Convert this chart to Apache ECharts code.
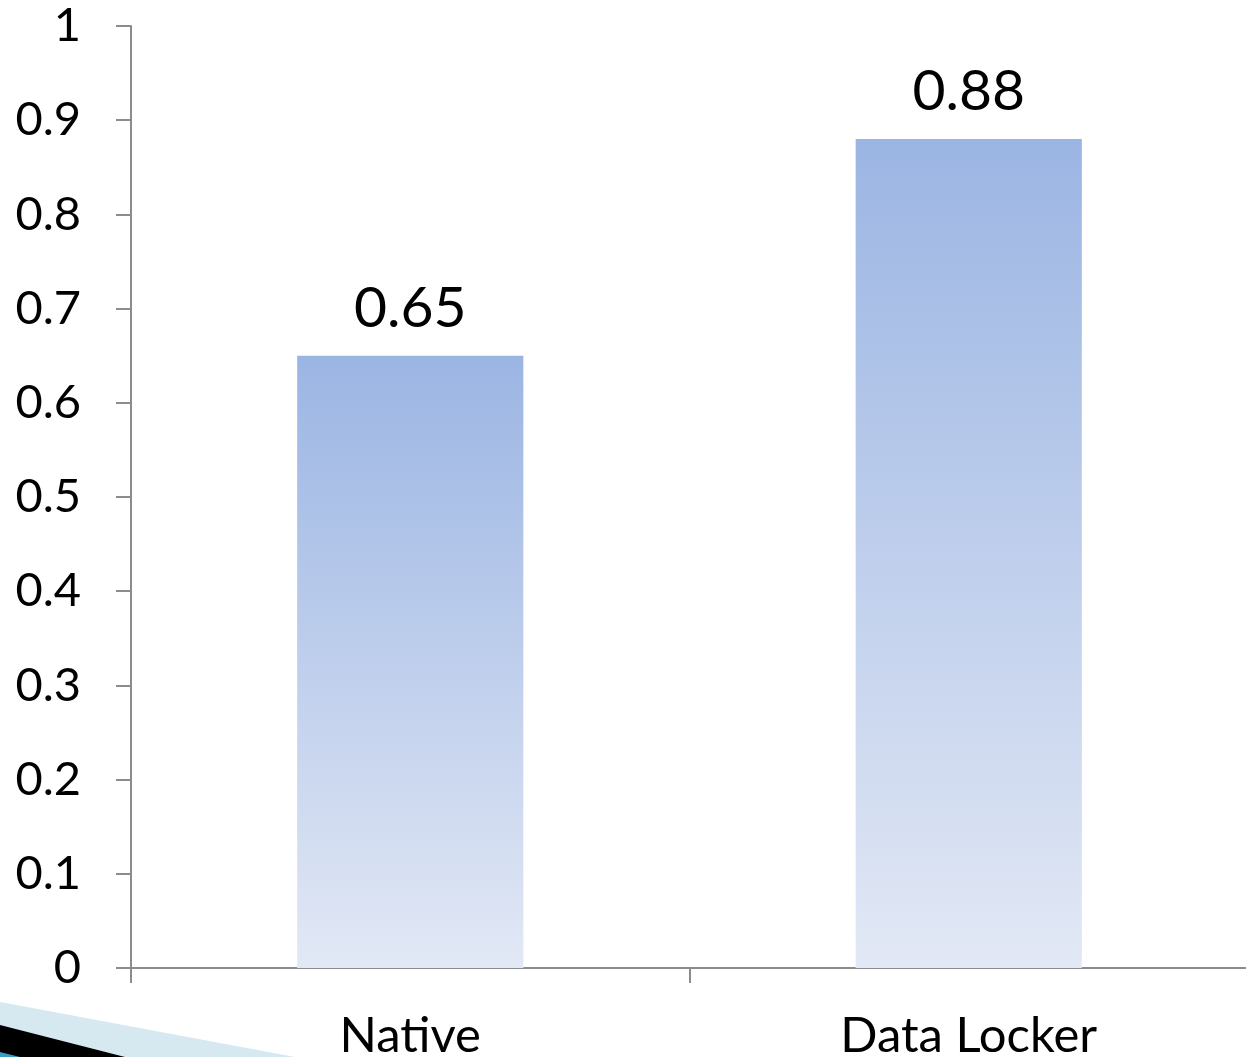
<!DOCTYPE html>
<html>
<head>
<meta charset="utf-8">
<style>
  html, body { margin: 0; padding: 0; background: #ffffff; }
  #chart { width: 1246px; height: 1057px; }
</style>
<script src="https://cdn.jsdelivr.net/npm/echarts@6/dist/echarts.min.js"></script>
</head>
<body>
<div id="chart"></div>
<script>
// Categories and measured values
const categories = ['Native', 'Data Locker'];
const values = [0.65, 0.88];

// Value axis range
const yMin = 0;
const yMax = 1;
const yStep = 0.1;

const FONT = 'Lato, "Open Sans", sans-serif';

const chart = echarts.init(document.getElementById('chart'), null, { renderer: 'canvas' });

chart.setOption({
  animation: false,
  backgroundColor: '#ffffff',
  grid: {
    left: 131, right: -2, top: 26, bottom: 89,
    containLabel: false,
    outerBoundsMode: 'none'
  },
  xAxis: {
    type: 'category',
    data: categories,
    axisLine: { show: true, lineStyle: { color: '#8c8c8c', width: 2 } },
    axisTick: { show: true, length: 15, lineStyle: { color: '#8c8c8c', width: 2 } },
    axisLabel: { color: '#000000', fontSize: 49, fontFamily: FONT, margin: 44 }
  },
  yAxis: {
    type: 'value',
    min: yMin,
    max: yMax,
    interval: yStep,
    axisLine: { show: true, lineStyle: { color: '#8c8c8c', width: 2 } },
    axisTick: { show: true, length: 15, lineStyle: { color: '#8c8c8c', width: 2 } },
    splitLine: { show: false },
    axisLabel: {
      color: '#000000', fontSize: 47, fontFamily: FONT, margin: 50,
      formatter: v => String(Math.round(v * 10) / 10)
    }
  },
  series: [{
    type: 'bar',
    data: values,
    barWidth: '40.5%',
    itemStyle: {
      color: new echarts.graphic.LinearGradient(0, 0, 0, 1, [
        { offset: 0, color: '#9bb5e3' },
        { offset: 1, color: '#e2e8f5' }
      ])
    },
    label: {
      show: true,
      position: 'top',
      distance: 19,
      color: '#000000',
      fontSize: 57,
      fontFamily: FONT
    }
  }],
  graphic: [
    // slide decoration in the lower-left corner
    {
      type: 'polygon', silent: true, z: -1,
      shape: { points: [[0, 1002], [295, 1057], [0, 1057]] },
      style: { fill: '#d6e8f0' }
    },
    {
      type: 'polygon', silent: true, z: 0,
      shape: { points: [[0, 1025], [125, 1057], [0, 1057]] },
      style: { fill: '#000000' }
    },
    {
      type: 'polygon', silent: true, z: 1,
      shape: { points: [[0, 1052], [20, 1057], [0, 1057]] },
      style: { fill: '#3a9cc4' }
    }
  ]
});
</script>
</body>
</html>
